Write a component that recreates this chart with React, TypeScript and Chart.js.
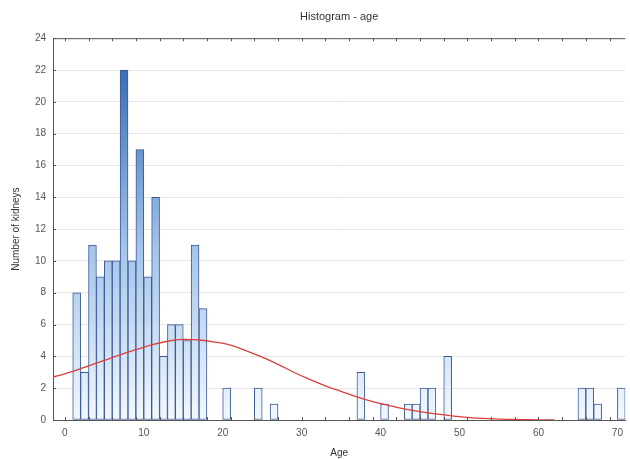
import { useEffect, useRef } from "react";
import { Chart, registerables } from "chart.js";
Chart.register(...registerables);

const binStarts = [1, 2, 3, 4, 5, 6, 7, 8, 9, 10, 11, 12, 13, 14, 15, 16, 17, 20, 24, 26, 37, 40, 43, 44, 45, 46, 48, 65, 66, 67, 70];
const counts = [8, 3, 11, 9, 10, 10, 22, 10, 17, 9, 14, 4, 6, 6, 5, 11, 7, 2, 2, 1, 3, 1, 1, 1, 2, 2, 4, 2, 2, 1, 2];

const curveAges = [-1.5, 0, 1, 3, 5, 7, 9, 11, 13, 15, 17, 19, 21, 23, 25, 27, 29, 31, 33, 35, 37, 39, 41, 43, 45, 47, 49, 51, 53, 55, 57, 59, 61, 62];
const curveValues = [2.7, 2.9, 3.05, 3.4, 3.75, 4.1, 4.42, 4.72, 4.95, 5.07, 5.03, 4.9, 4.7, 4.35, 3.95, 3.5, 3.0, 2.55, 2.15, 1.8, 1.45, 1.15, 0.92, 0.7, 0.52, 0.38, 0.26, 0.17, 0.1, 0.06, 0.03, 0.015, 0.005, 0];

const titleText = "Histogram - age";
const xMin = -1.5;
const xMax = 71;
const xStep = 10;
const minorStep = 3;
const yMax = 24;
const yStep = 2;

const FONT = "'Liberation Sans', Arial, sans-serif";

export default function App() {
  const ref = useRef<HTMLCanvasElement>(null);
  useEffect(() => {
    if (!ref.current) return;
    const gradientFor = (ctx: any) => {
      const chart = ctx.chart;
      const a = chart.chartArea;
      if (!a) return "#9bbfe6";
      const g = chart.ctx.createLinearGradient(0, a.bottom, 0, a.top);
      g.addColorStop(0, "#f3f8fe");
      g.addColorStop(0.45, "#a3c4e9");
      g.addColorStop(0.9, "#3e71b6");
      g.addColorStop(1, "#3466ad");
      return g;
    };
    const framePlugin = {
      id: "frame",
      afterDatasetsDraw(chart: any) {
        const { ctx, chartArea: a, scales } = chart;
        const x = scales.x;
        const y = scales.y;
        ctx.save();
        ctx.strokeStyle = "#555";
        ctx.lineWidth = 1;
        ctx.beginPath();
        ctx.moveTo(a.left, a.top + 0.5);
        ctx.lineTo(a.right, a.top + 0.5);
        for (let v = 0; v <= xMax; v += minorStep) {
          const px = Math.round(x.getPixelForValue(v)) + 0.5;
          ctx.moveTo(px, a.bottom);
          ctx.lineTo(px, a.bottom - 3);
          ctx.moveTo(px, a.top);
          ctx.lineTo(px, a.top + 3);
        }
        for (let v = 0; v <= yMax; v += yStep) {
          const py = Math.round(y.getPixelForValue(v)) + 0.5;
          ctx.moveTo(a.left, py);
          ctx.lineTo(a.left + 3, py);
        }
        ctx.stroke();
        // title centred over the plot area
        ctx.fillStyle = "#333";
        ctx.font = `11px ${FONT}`;
        ctx.textAlign = "center";
        ctx.textBaseline = "middle";
        ctx.fillText(titleText, (a.left + a.right) / 2, 16.5);
        ctx.restore();
      },
    };
    const chart = new Chart(ref.current, {
      type: "bar",
      data: {
        datasets: [
          {
            type: "line",
            data: curveAges.map((a, i) => ({ x: a, y: curveValues[i] })),
            borderColor: "#dc3f3a",
            borderWidth: 1.3,
            pointRadius: 0,
            tension: 0.4,
            fill: false,
            order: 0,
          } as any,
          {
            type: "bar",
            data: binStarts.map((b, i) => ({ x: b + 0.5, y: counts[i] })),
            backgroundColor: gradientFor,
            borderColor: "#3a5a96",
            borderWidth: 1,
            borderSkipped: false,
            barPercentage: 1,
            categoryPercentage: 1,
            order: 1,
          } as any,
        ],
      },
      options: {
        responsive: false,
        animation: false,
        layout: { padding: { left: 10, right: 2, top: 0, bottom: 0 } },
        plugins: {
          legend: { display: false },
          tooltip: { enabled: false },
          title: {
            display: true,
            text: titleText,
            color: "rgba(0,0,0,0)",
            font: { family: FONT, size: 11, weight: "normal" },
            padding: { top: 10, bottom: 15 },
          },
        },
        scales: {
          x: {
            type: "linear",
            min: xMin,
            max: xMax,
            offset: false,
            grid: { display: false, drawTicks: false, offset: false },
            border: { display: true, color: "#555", width: 1 },
            ticks: {
              stepSize: xStep,
              includeBounds: false,
              color: "#555",
              padding: 7,
              font: { family: FONT, size: 10 },
            },
            title: {
              display: true,
              text: "Age",
              color: "#333",
              font: { family: FONT, size: 10 },
              padding: { top: 1, bottom: 0 },
            },
          },
          y: {
            min: 0,
            max: yMax,
            grid: { color: "#e6e6e6", drawTicks: false },
            border: { display: true, color: "#555", width: 1 },
            ticks: {
              stepSize: yStep,
              color: "#555",
              padding: 7,
              font: { family: FONT, size: 10 },
            },
            title: {
              display: true,
              text: "Number of kidneys",
              color: "#333",
              font: { family: FONT, size: 10 },
              padding: { top: 0, bottom: 6 },
            },
            afterFit(scale: any) {
              scale.width = 43;
            },
          },
        },
      },
      plugins: [framePlugin],
    });
    return () => chart.destroy();
  }, []);
  return (
    <div style={{ position: "fixed", left: 0, top: 0, width: 630, height: 459, background: "#fff" }}>
      <canvas ref={ref} width={630} height={459} />
    </div>
  );
}
